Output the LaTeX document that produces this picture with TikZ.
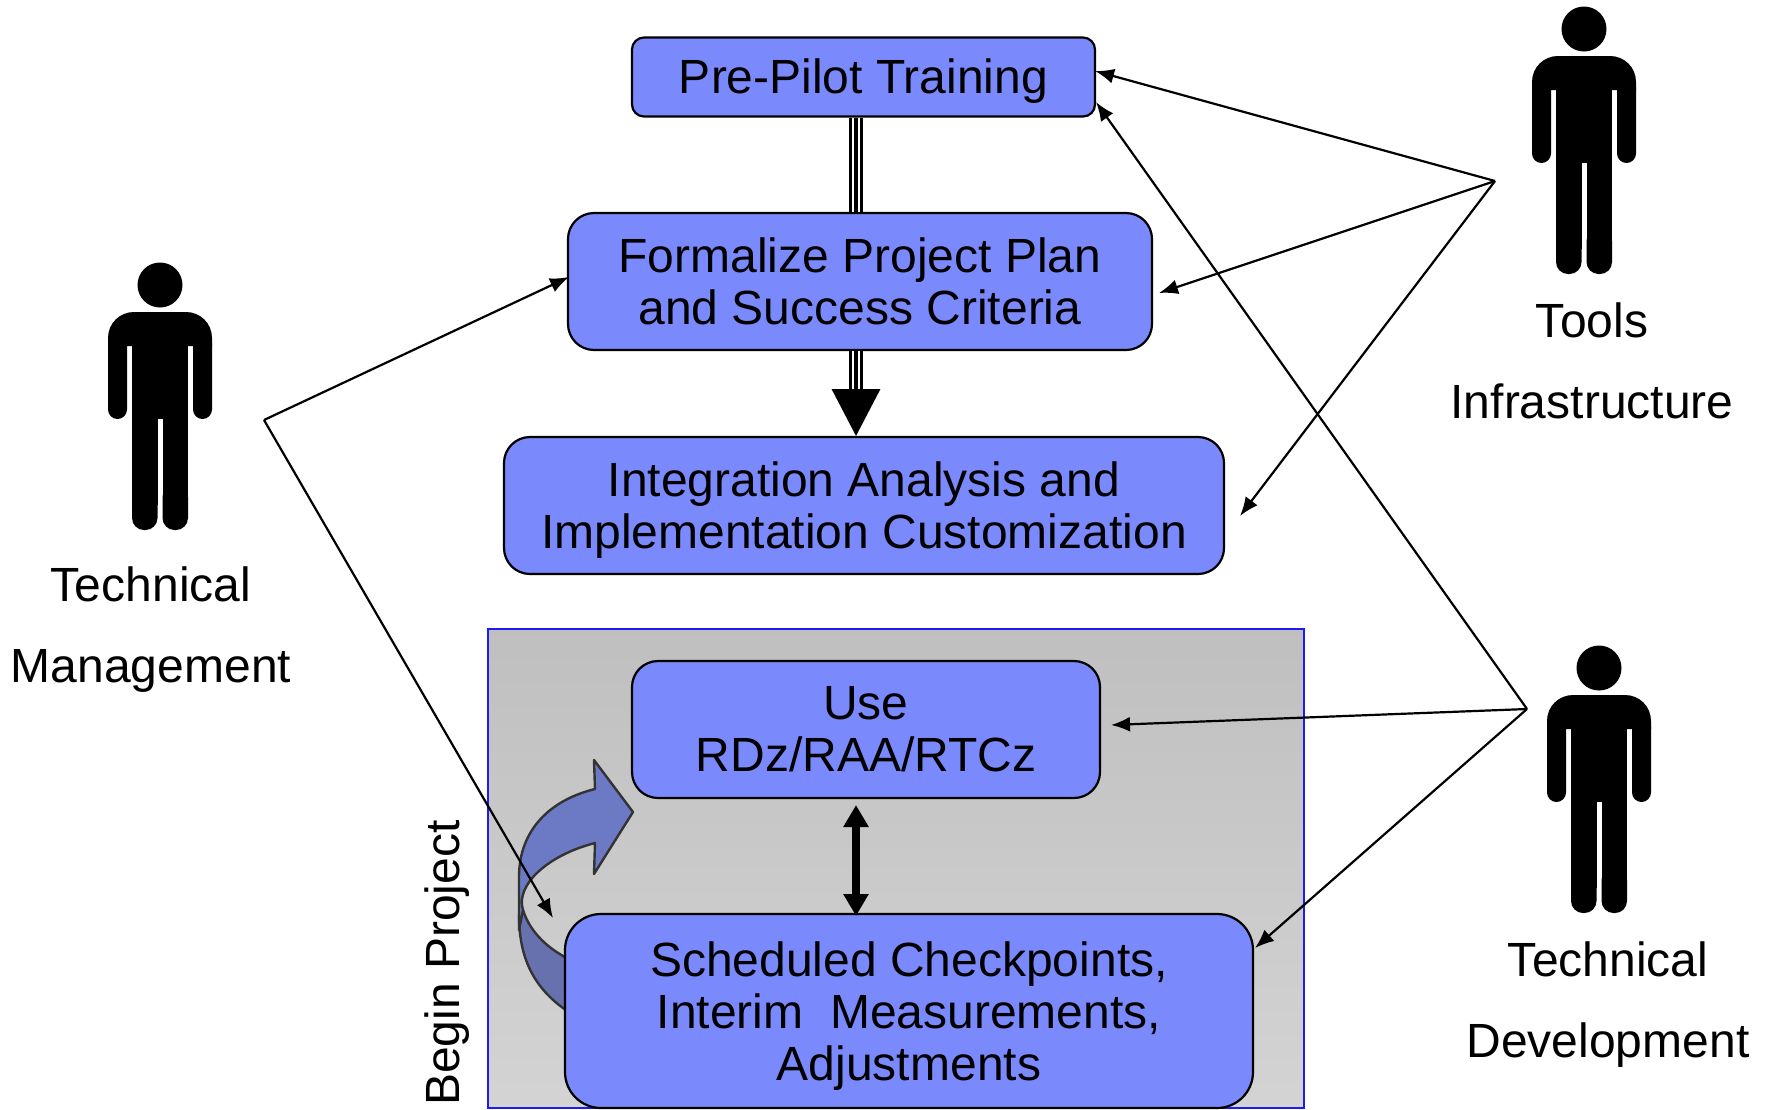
\documentclass[tikz,border=0pt]{standalone}
\usepackage{fontspec}
\setmainfont{Liberation Sans}
\usetikzlibrary{arrows.meta}
\definecolor{boxblue}{HTML}{7A8AFD}
\definecolor{framblue}{HTML}{1C1CF0}
\definecolor{bandtop}{HTML}{6C7AC6}
\definecolor{bandlow}{HTML}{6771AE}
\definecolor{bandline}{HTML}{333333}
\tikzset{
  stepbox/.style={draw=black,line width=2.2pt,fill=boxblue,align=center,inner sep=0pt,
    font=\fontsize{48}{52}\selectfont},
  label/.style={align=center,inner sep=0pt,font=\fontsize{48}{81}\selectfont},
  pointer/.style={draw=black,line width=2.2pt,-{Latex[length=19pt,width=15pt]}},
  tripleline/.style={draw=black,line width=3.6pt,double=white,double distance=7.2pt},
  centreline/.style={draw=black,line width=3.6pt},
  band/.style={draw=bandline,line width=2.4pt,line join=round},
  pics/person/.style={code={
    \fill (0,0) circle (22.5pt);
    \fill (-52,61) -- (-52,53) .. controls (-52,38) and (-40,27) .. (-26,27) -- (26,27)
      .. controls (40,27) and (52,38) .. (52,53) -- (52,61) -- cycle;
    \fill[rounded corners=9.5pt] (-52,50) rectangle (-33,134);
    \fill[rounded corners=9.5pt] (33,50) rectangle (52,134);
    \fill (-28,50) rectangle (28,134);
    \fill (-28,133) rectangle (-2.5,220);
    \fill (2.5,133) rectangle (28,220);
    \fill[rounded corners=12pt] (-28,200) rectangle (-2.5,245);
    \fill[rounded corners=12pt] (2.5,200) rectangle (28,245);
  }}
}
\begin{document}
\begin{tikzpicture}[x=1pt,y=-1pt]
\useasboundingbox (0,0) rectangle (1767,1109);
% grey panel
\shade[top color=black!25,bottom color=black!17] (488,629) rectangle (1304,1108);
\draw[framblue,line width=2.6pt] (1304,1108) -- (1304,629) -- (488,629) -- (488,1108) -- cycle;
% curved arrow
\draw[band,fill=bandlow] (519,915) .. controls (519,960) and (535,992) .. (575,1016)
  -- (575,962) .. controls (548,950) and (530,932) .. (523,910) -- cycle;
\draw[band,fill=bandtop] (519,930) -- (519,877) .. controls (519,830) and (550,800) .. (595,789)
  -- (594,760) -- (633,812) -- (594,874) -- (595,843) .. controls (548,855) and (515,885) .. (523,910)
  -- cycle;
% boxes
\node[stepbox,rounded corners=12pt,minimum width=463pt,minimum height=79pt] (prepilot) at (863.5,77) {\rule{0pt}{42.5pt}Pre-Pilot Training};
\node[stepbox,rounded corners=26pt,minimum width=584pt,minimum height=137pt] (formalize) at (860,281.5) {Formalize Project Plan\\and Success Criteria};
\node[stepbox,rounded corners=26pt,minimum width=720pt,minimum height=137pt] (integration) at (864,505.5) {\rule{0pt}{44pt}Integration Analysis and\\Implementation Customization};
\node[stepbox,rounded corners=26pt,minimum width=468pt,minimum height=137pt] (use) at (866,729.5) {Use\\RDz/RAA/RTCz};
\node[stepbox,rounded corners=36pt,minimum width=688pt,minimum height=194pt] (checkpoints) at (909,1011) {\rule{0pt}{44pt}Scheduled Checkpoints,\\Interim\ \ Measurements,\\Adjustments};
% vertical spine
\coordinate (spine) at (856,0);
\coordinate (headbase) at (856,389);
\coordinate (dtop) at (856,805);
\coordinate (dbot) at (856,916);
\draw[tripleline] (spine |- prepilot.south) -- (spine |- formalize.north);
\draw[centreline] (spine |- prepilot.south) -- (spine |- formalize.north);
\draw[tripleline] (spine |- formalize.south) -- (headbase);
\draw[centreline,-{Triangle[length=47pt,width=48pt]}] (spine |- formalize.south) -- (856,436);
\draw[line width=7.5pt,{Triangle[length=22pt,width=24pt]}-{Triangle[length=22pt,width=24pt]}] (dtop) -- (dbot);
% people
\pic at (1584,29) {person};
\pic at (160,285) {person};
\pic at (1599,668) {person};
% labels
\node[label] (tools) at (1592,361) {Tools\\Infrastructure};
\node[label] (mgmt) at (151,630) {Technical\\Management};
\node[label] (dev) at (1608,1005) {Technical\\Development};
\node[label,rotate=90,font=\fontsize{48}{52}\selectfont] (begin) at (447,963) {Begin Project};
% hubs and connector ends
\coordinate (toolshub) at (1495,181);
\coordinate (mgmthub) at (264,420);
\coordinate (devhub) at (1527,709);
\coordinate (a1) at (1095,71);
\coordinate (a2) at (1159,293);
\coordinate (a3) at (1240,516);
\coordinate (a4) at (1096,102);
\coordinate (a5) at (1111,725);
\coordinate (a6) at (1255,948);
\coordinate (a7) at (569,277);
\coordinate (a8) at (553,918);
\draw[pointer] (toolshub) -- (a1);
\draw[pointer] (toolshub) -- (a2);
\draw[pointer] (toolshub) -- (a3);
\draw[pointer] (devhub) -- (a4);
\draw[pointer] (devhub) -- (a5);
\draw[pointer] (devhub) -- (a6);
\draw[pointer] (mgmthub) -- (a7);
\draw[pointer] (mgmthub) -- (a8);
\end{tikzpicture}
\end{document}
